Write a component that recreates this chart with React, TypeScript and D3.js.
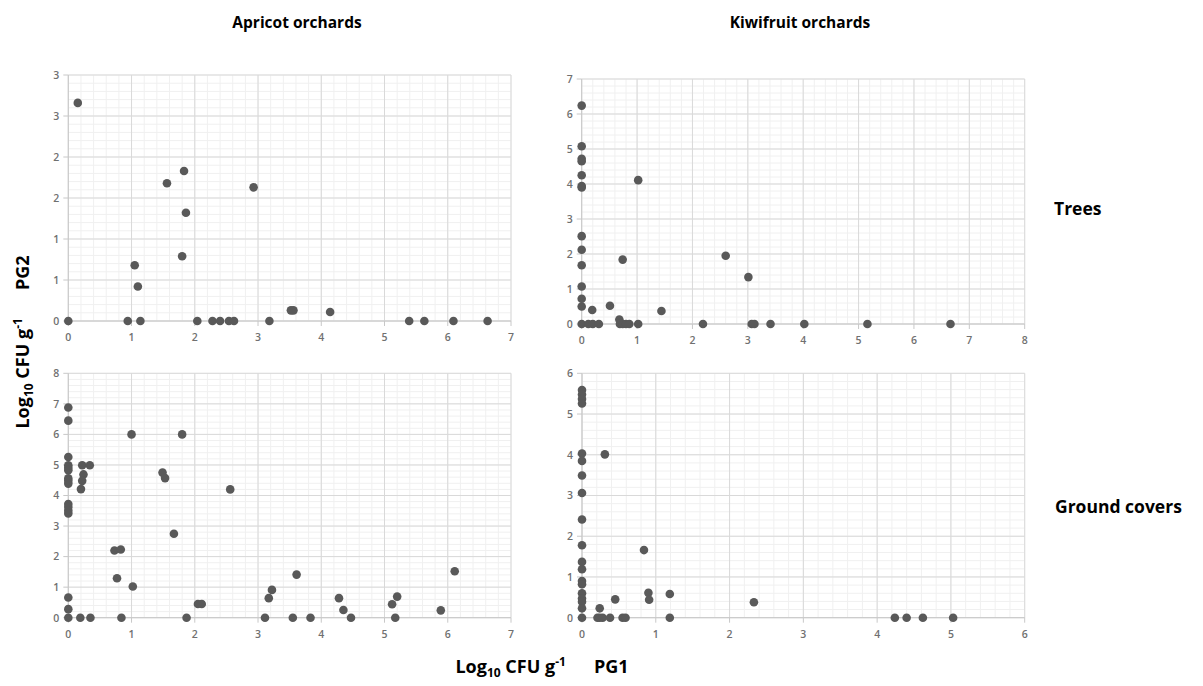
import React from "react";
import * as d3 from "d3";

// ---------- data ----------
const columnTitles = ["Apricot orchards", "Kiwifruit orchards"];
const rowTitles = ["Trees", "Ground covers"];

// Apricot orchards – trees
const apricotTreesPG1 = [0.15, 0, 0.94, 1.14, 1.05, 1.10, 1.56, 1.83, 1.86, 1.80, 2.93, 2.04, 2.28, 2.40, 2.54, 2.62, 3.18, 3.52, 3.56, 4.14, 5.39, 5.63, 6.09, 6.63];
const apricotTreesPG2 = [2.66, 0, 0, 0, 0.68, 0.42, 1.68, 1.83, 1.32, 0.79, 1.63, 0, 0, 0, 0, 0, 0, 0.13, 0.13, 0.11, 0, 0, 0, 0];

// Kiwifruit orchards – trees
const kiwiTreesPG1 = [0, 0, 0, 0, 0, 0, 0, 1.02, 0, 0, 0, 0, 0, 0, 0, 0.19, 0.51, 0.74, 2.60, 3.01, 1.44, 0.68, 0.12, 0.20, 0.31, 0.69, 0.74, 0.80, 0.86, 1.02, 2.19, 3.07, 3.12, 3.41, 4.02, 5.16, 6.66];
const kiwiTreesPG2 = [6.24, 5.08, 4.72, 4.65, 4.25, 3.94, 3.90, 4.11, 2.51, 2.12, 1.68, 1.07, 0.72, 0.50, 0, 0.40, 0.52, 1.84, 1.95, 1.34, 0.37, 0.13, 0, 0, 0, 0, 0, 0, 0, 0, 0, 0, 0, 0, 0, 0, 0];

// Apricot orchards – ground covers
const apricotGroundPG1 = [0, 0, 0, 0, 0, 0, 0, 0, 0, 0, 0, 0, 0, 0, 0, 0, 0.22, 0.34, 0.24, 0.22, 0.20, 0.19, 0.35, 1.00, 1.80, 1.49, 1.53, 2.56, 1.67, 0.73, 0.83, 0.77, 1.02, 0.84, 1.87, 2.05, 2.11, 3.11, 3.17, 3.22, 3.61, 3.55, 3.83, 4.28, 4.35, 4.47, 5.12, 5.20, 5.17, 5.89, 6.11];
const apricotGroundPG2 = [6.88, 6.45, 5.26, 4.99, 4.91, 4.83, 4.56, 4.48, 4.39, 3.72, 3.62, 3.50, 3.41, 0.66, 0.28, 0, 4.99, 4.99, 4.69, 4.48, 4.21, 0, 0, 6.00, 6.00, 4.75, 4.57, 4.20, 2.75, 2.20, 2.23, 1.29, 1.02, 0, 0, 0.45, 0.45, 0, 0.64, 0.91, 1.41, 0, 0, 0.64, 0.25, 0, 0.44, 0.69, 0, 0.24, 1.52];

// Kiwifruit orchards – ground covers
const kiwiGroundPG1 = [0, 0, 0, 0, 0, 0, 0, 0, 0, 0, 0, 0, 0, 0, 0, 0, 0, 0, 0, 0.31, 0.84, 0.90, 0.91, 1.19, 0.45, 0.24, 2.33, 0.21, 0.24, 0.28, 0.38, 0.55, 0.59, 1.19, 4.24, 4.40, 4.62, 5.03];
const kiwiGroundPG2 = [5.59, 5.48, 5.37, 5.26, 4.03, 3.85, 3.49, 3.06, 2.41, 1.78, 1.37, 1.19, 0.90, 0.82, 0.60, 0.47, 0.39, 0.23, 0, 4.01, 1.66, 0.61, 0.44, 0.58, 0.45, 0.23, 0.38, 0, 0, 0, 0, 0, 0, 0, 0, 0, 0, 0];

// tick values and labels
const apricotTreesXTicks = [0, 1, 2, 3, 4, 5, 6, 7];
const apricotTreesYTicks = [0, 0.5, 1, 1.5, 2, 2.5, 3];
const apricotTreesYLabels = ["0", "1", "1", "2", "2", "3", "3"];
const kiwiTreesXTicks = [0, 1, 2, 3, 4, 5, 6, 7, 8];
const kiwiTreesYTicks = [0, 1, 2, 3, 4, 5, 6, 7];
const apricotGroundXTicks = [0, 1, 2, 3, 4, 5, 6, 7];
const apricotGroundYTicks = [0, 1, 2, 3, 4, 5, 6, 7, 8];
const kiwiGroundXTicks = [0, 1, 2, 3, 4, 5, 6];
const kiwiGroundYTicks = [0, 1, 2, 3, 4, 5, 6];

const TICK_FONT = "'Open Sans', 'DejaVu Sans', sans-serif";
const TITLE_FONT = "'Open Sans', 'DejaVu Sans', sans-serif";

type PanelProps = {
  xs: number[];
  ys: number[];
  xTicks: number[];
  yTicks: number[];
  yLabels?: string[];
  box: { left: number; right: number; top: number; bottom: number };
};

function Panel({ xs, ys, xTicks, yTicks, yLabels, box }: PanelProps) {
  const xMax = xTicks[xTicks.length - 1];
  const yMax = yTicks[yTicks.length - 1];
  const x = d3.scaleLinear().domain([0, xMax]).range([box.left, box.right]);
  const y = d3.scaleLinear().domain([0, yMax]).range([box.bottom, box.top]);
  const xStep = xTicks[1] - xTicks[0];
  const yStep = yTicks[1] - yTicks[0];
  const xMinor = d3.range(0, xMax + 1e-9, xStep / 5);
  const yMinor = d3.range(0, yMax + 1e-9, yStep / 5);
  const pts = xs.map((v, i) => [v, ys[i]] as [number, number]);
  return (
    <g>
      {xMinor.map((v, i) => (
        <line key={"xm" + i} x1={x(v)} x2={x(v)} y1={box.top} y2={box.bottom} stroke="#f0f0f0" strokeWidth={1} />
      ))}
      {yMinor.map((v, i) => (
        <line key={"ym" + i} x1={box.left} x2={box.right} y1={y(v)} y2={y(v)} stroke="#f0f0f0" strokeWidth={1} />
      ))}
      {xTicks.map((v, i) => (
        <line key={"xg" + i} x1={x(v)} x2={x(v)} y1={box.top} y2={box.bottom} stroke="#d9d9d9" strokeWidth={1} />
      ))}
      {yTicks.map((v, i) => (
        <line key={"yg" + i} x1={box.left} x2={box.right} y1={y(v)} y2={y(v)} stroke="#d9d9d9" strokeWidth={1} />
      ))}
      {/* axis lines */}
      <line x1={box.left} x2={box.right} y1={y(0)} y2={y(0)} stroke="#c8c8c8" strokeWidth={1} />
      <line x1={x(0)} x2={x(0)} y1={box.top} y2={box.bottom} stroke="#c8c8c8" strokeWidth={1} />
      {xTicks.map((v, i) => (
        <line key={"xt" + i} x1={x(v)} x2={x(v)} y1={box.bottom} y2={box.bottom + 5} stroke="#c8c8c8" strokeWidth={1} />
      ))}
      {yTicks.map((v, i) => (
        <line key={"yt" + i} x1={box.left - 5} x2={box.left} y1={y(v)} y2={y(v)} stroke="#c8c8c8" strokeWidth={1} />
      ))}
      {xTicks.map((v, i) => (
        <text key={"xl" + i} x={x(v)} y={box.bottom + 20} textAnchor="middle" fontSize={10.5} fontFamily={TICK_FONT} fontWeight={600} fill="#707070">
          {String(v)}
        </text>
      ))}
      {yTicks.map((v, i) => (
        <text key={"yl" + i} x={box.left - 9} y={y(v) + 3.8} textAnchor="end" fontSize={10.5} fontFamily={TICK_FONT} fontWeight={600} fill="#707070">
          {yLabels ? yLabels[i] : String(v)}
        </text>
      ))}
      {pts.map((p, i) => (
        <circle key={"p" + i} cx={x(p[0])} cy={y(p[1])} r={4.3} fill="#595959" />
      ))}
    </g>
  );
}

function AxisTitle({ label, transform }: { label: string; transform: string }) {
  return (
    <text transform={transform} textAnchor="middle" fontSize={18} fontWeight={700} fontFamily={TITLE_FONT} fill="#000" style={{ whiteSpace: "pre" }}>
      <tspan>Log</tspan>
      <tspan fontSize={12} dy={4}>10</tspan>
      <tspan dy={-4}> CFU g</tspan>
      <tspan fontSize={12} dy={-7}>-1</tspan>
      <tspan dy={7}>{"      " + label}</tspan>
    </text>
  );
}

export default function App() {
  return (
    <svg width={1203} height={686} style={{ position: "absolute", left: 0, top: 0, background: "#fff" }}>
      <rect width={1203} height={686} fill="#fff" />
      <Panel xs={apricotTreesPG1} ys={apricotTreesPG2} xTicks={apricotTreesXTicks} yTicks={apricotTreesYTicks} yLabels={apricotTreesYLabels}
        box={{ left: 68.3, right: 511, top: 75, bottom: 321 }} />
      <Panel xs={kiwiTreesPG1} ys={kiwiTreesPG2} xTicks={kiwiTreesXTicks} yTicks={kiwiTreesYTicks}
        box={{ left: 581.7, right: 1024.7, top: 79, bottom: 324 }} />
      <Panel xs={apricotGroundPG1} ys={apricotGroundPG2} xTicks={apricotGroundXTicks} yTicks={apricotGroundYTicks}
        box={{ left: 68.3, right: 511, top: 373.3, bottom: 617.7 }} />
      <Panel xs={kiwiGroundPG1} ys={kiwiGroundPG2} xTicks={kiwiGroundXTicks} yTicks={kiwiGroundYTicks}
        box={{ left: 582, right: 1024.7, top: 373.3, bottom: 617.7 }} />

      <text x={297} y={28} textAnchor="middle" fontSize={15.5} fontWeight={700} fontFamily={TITLE_FONT} fill="#000">{columnTitles[0]}</text>
      <text x={800} y={28} textAnchor="middle" fontSize={15.5} fontWeight={700} fontFamily={TITLE_FONT} fill="#000">{columnTitles[1]}</text>
      <text x={1054} y={215} textAnchor="start" fontSize={17.5} fontWeight={700} fontFamily={TITLE_FONT} fill="#000">{rowTitles[0]}</text>
      <text x={1055} y={513} textAnchor="start" fontSize={17.5} fontWeight={700} fontFamily={TITLE_FONT} fill="#000">{rowTitles[1]}</text>

      <AxisTitle label="PG2" transform="translate(29,342) rotate(-90)" />
      <AxisTitle label="PG1" transform="translate(542,673)" />
    </svg>
  );
}
